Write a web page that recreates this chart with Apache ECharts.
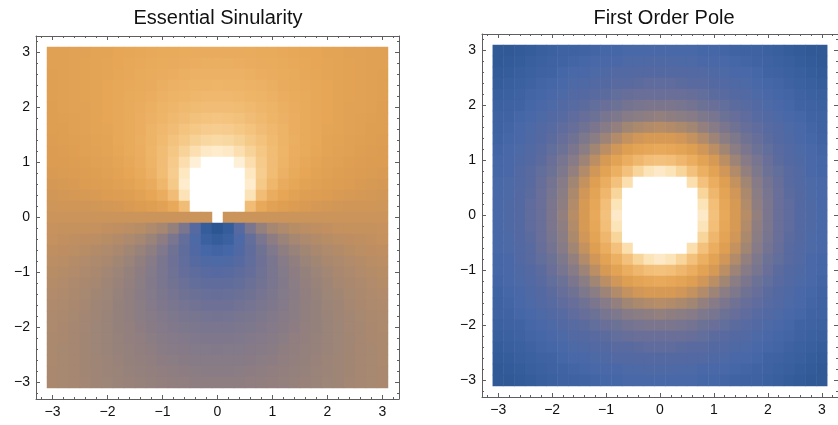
<!DOCTYPE html>
<html>
<head>
<meta charset="utf-8">
<script src="https://cdn.jsdelivr.net/npm/echarts@6/dist/echarts.min.js"></script>
<style>
html,body{margin:0;padding:0;background:#ffffff;}
#chart{width:838px;height:425px;}
</style>
</head>
<body>
<div id="chart"></div>
<script>
// ---------------- data ----------------
const titles = ['Essential Sinularity', 'First Order Pole'];

// cell centres of the sampling grid (outer two are empty padding cells)
const cellCenters = ['-3.2','-3.0','-2.8','-2.6','-2.4','-2.2','-2.0','-1.8','-1.6','-1.4','-1.2','-1.0','-0.8','-0.6','-0.4','-0.2','0.0',
  '0.2','0.4','0.6','0.8','1.0','1.2','1.4','1.6','1.8','2.0','2.2','2.4','2.6','2.8','3.0','3.2'];

const tickValues = [-3, -2, -1, 0, 1, 2, 3];
const tickLabels = ['\u22123', '\u22122', '\u22121', '0', '1', '2', '3'];
const minorTickValues = [-3.2,-2.8,-2.6,-2.4,-2.2,-1.8,-1.6,-1.4,-1.2,-0.8,-0.6,-0.4,-0.2,
  0.2,0.4,0.6,0.8,1.2,1.4,1.6,1.8,2.2,2.4,2.6,2.8,3.2];

// log-modulus of the essential-singularity function, rows from y = 3.0 (top) to y = -3.0, columns x = -3.0 .. 3.0
const essentialLogModulus = [
[.17,.18,.19,.20,.22,.23,.25,.26,.27,.29,.30,.31,.32,.33,.33,.33,.33,.33,.32,.31,.30,.29,.27,.26,.25,.23,.22,.20,.19,.18,.17],
[.17,.18,.19,.21,.22,.24,.25,.27,.29,.30,.32,.33,.34,.35,.36,.36,.36,.35,.34,.33,.32,.30,.29,.27,.25,.24,.22,.21,.19,.18,.17],
[.16,.18,.19,.21,.22,.24,.26,.28,.30,.32,.34,.35,.37,.38,.38,.38,.38,.38,.37,.35,.34,.32,.30,.28,.26,.24,.22,.21,.19,.18,.16],
[.16,.18,.19,.21,.23,.25,.27,.29,.31,.33,.36,.38,.39,.41,.41,.42,.41,.41,.39,.38,.36,.33,.31,.29,.27,.25,.23,.21,.19,.18,.16],
[.16,.17,.19,.21,.23,.25,.27,.30,.32,.35,.38,.40,.42,.44,.45,.45,.45,.44,.42,.40,.38,.35,.32,.30,.27,.25,.23,.21,.19,.17,.16],
[.15,.17,.19,.20,.23,.25,.28,.30,.34,.37,.40,.43,.46,.48,.50,.50,.50,.48,.46,.43,.40,.37,.34,.30,.28,.25,.23,.20,.19,.17,.15],
[.15,.16,.18,.20,.22,.25,.28,.31,.35,.38,.42,.46,.50,.53,.55,.56,.55,.53,.50,.46,.42,.38,.35,.31,.28,.25,.22,.20,.18,.16,.15],
[.14,.15,.17,.19,.22,.24,.28,.31,.35,.40,.45,.50,.55,.59,.62,.63,.62,.59,.55,.50,.45,.40,.35,.31,.28,.24,.22,.19,.17,.15,.14],
[.13,.14,.16,.18,.21,.23,.27,.31,.36,.41,.47,.54,.60,.66,.70,.71,.70,.66,.60,.54,.47,.41,.36,.31,.27,.23,.21,.18,.16,.14,.13],
[.11,.13,.15,.17,.19,.22,.26,.30,.35,.42,.49,.58,.67,.75,.81,.83,.81,.75,.67,.58,.49,.42,.35,.30,.26,.22,.19,.17,.15,.13,.11],
[.10,.11,.13,.15,.17,.20,.24,.28,.34,.41,.50,.61,.74,.86,.96,1.00,.96,.86,.74,.61,.50,.41,.34,.28,.24,.20,.17,.15,.13,.11,.10],
[.08,.09,.11,.13,.15,.17,.21,.25,.31,.38,.49,.63,.80,1.00,1.18,1.25,1.18,1.00,.80,.63,.49,.38,.31,.25,.21,.17,.15,.13,.11,.09,.08],
[.06,.07,.08,.10,.12,.14,.17,.21,.26,.33,.44,.60,.83,1.15,1.50,1.67,1.50,1.15,.83,.60,.44,.33,.26,.21,.17,.14,.12,.10,.08,.07,.06],
[.04,.05,.06,.07,.08,.10,.12,.15,.19,.25,.34,.50,.77,1.25,2.00,2.50,2.00,1.25,.77,.50,.34,.25,.19,.15,.12,.10,.08,.07,.06,.05,.04],
[.02,.03,.03,.03,.04,.05,.06,.08,.10,.14,.19,.29,.50,1.00,2.50,5.00,2.50,1.00,.50,.29,.19,.14,.10,.08,.06,.05,.04,.03,.03,.03,.02],
[0,0,0,0,0,0,0,0,0,0,0,0,0,0,0,'-',0,0,0,0,0,0,0,0,0,0,0,0,0,0,0],
[-.02,-.03,-.03,-.03,-.04,-.05,-.06,-.08,-.10,-.14,-.19,-.29,-.50,-1.00,-2.50,-5.00,-2.50,-1.00,-.50,-.29,-.19,-.14,-.10,-.08,-.06,-.05,-.04,-.03,-.03,-.03,-.02],
[-.04,-.05,-.06,-.07,-.08,-.10,-.12,-.15,-.19,-.25,-.34,-.50,-.77,-1.25,-2.00,-2.50,-2.00,-1.25,-.77,-.50,-.34,-.25,-.19,-.15,-.12,-.10,-.08,-.07,-.06,-.05,-.04],
[-.06,-.07,-.08,-.10,-.12,-.14,-.17,-.21,-.26,-.33,-.44,-.60,-.83,-1.15,-1.50,-1.67,-1.50,-1.15,-.83,-.60,-.44,-.33,-.26,-.21,-.17,-.14,-.12,-.10,-.08,-.07,-.06],
[-.08,-.09,-.11,-.13,-.15,-.17,-.21,-.25,-.31,-.38,-.49,-.63,-.80,-1.00,-1.18,-1.25,-1.18,-1.00,-.80,-.63,-.49,-.38,-.31,-.25,-.21,-.17,-.15,-.13,-.11,-.09,-.08],
[-.10,-.11,-.13,-.15,-.17,-.20,-.24,-.28,-.34,-.41,-.50,-.61,-.74,-.86,-.96,-1.00,-.96,-.86,-.74,-.61,-.50,-.41,-.34,-.28,-.24,-.20,-.17,-.15,-.13,-.11,-.10],
[-.11,-.13,-.15,-.17,-.19,-.22,-.26,-.30,-.35,-.42,-.49,-.58,-.67,-.75,-.81,-.83,-.81,-.75,-.67,-.58,-.49,-.42,-.35,-.30,-.26,-.22,-.19,-.17,-.15,-.13,-.11],
[-.13,-.14,-.16,-.18,-.21,-.23,-.27,-.31,-.36,-.41,-.47,-.54,-.60,-.66,-.70,-.71,-.70,-.66,-.60,-.54,-.47,-.41,-.36,-.31,-.27,-.23,-.21,-.18,-.16,-.14,-.13],
[-.14,-.15,-.17,-.19,-.22,-.24,-.28,-.31,-.35,-.40,-.45,-.50,-.55,-.59,-.62,-.63,-.62,-.59,-.55,-.50,-.45,-.40,-.35,-.31,-.28,-.24,-.22,-.19,-.17,-.15,-.14],
[-.15,-.16,-.18,-.20,-.22,-.25,-.28,-.31,-.35,-.38,-.42,-.46,-.50,-.53,-.55,-.56,-.55,-.53,-.50,-.46,-.42,-.38,-.35,-.31,-.28,-.25,-.22,-.20,-.18,-.16,-.15],
[-.15,-.17,-.19,-.20,-.23,-.25,-.28,-.30,-.34,-.37,-.40,-.43,-.46,-.48,-.50,-.50,-.50,-.48,-.46,-.43,-.40,-.37,-.34,-.30,-.28,-.25,-.23,-.20,-.19,-.17,-.15],
[-.16,-.17,-.19,-.21,-.23,-.25,-.27,-.30,-.32,-.35,-.38,-.40,-.42,-.44,-.45,-.45,-.45,-.44,-.42,-.40,-.38,-.35,-.32,-.30,-.27,-.25,-.23,-.21,-.19,-.17,-.16],
[-.16,-.18,-.19,-.21,-.23,-.25,-.27,-.29,-.31,-.33,-.36,-.38,-.39,-.41,-.41,-.42,-.41,-.41,-.39,-.38,-.36,-.33,-.31,-.29,-.27,-.25,-.23,-.21,-.19,-.18,-.16],
[-.16,-.18,-.19,-.21,-.22,-.24,-.26,-.28,-.30,-.32,-.34,-.35,-.37,-.38,-.38,-.38,-.38,-.38,-.37,-.35,-.34,-.32,-.30,-.28,-.26,-.24,-.22,-.21,-.19,-.18,-.16],
[-.17,-.18,-.19,-.21,-.22,-.24,-.25,-.27,-.29,-.30,-.32,-.33,-.34,-.35,-.36,-.36,-.36,-.35,-.34,-.33,-.32,-.30,-.29,-.27,-.25,-.24,-.22,-.21,-.19,-.18,-.17],
[-.17,-.18,-.19,-.20,-.22,-.23,-.25,-.26,-.27,-.29,-.30,-.31,-.32,-.33,-.33,-.33,-.33,-.33,-.32,-.31,-.30,-.29,-.27,-.26,-.25,-.23,-.22,-.20,-.19,-.18,-.17]
];

// modulus of the first-order pole, same grid
const poleModulus = [
[.24,.24,.25,.26,.27,.28,.29,.29,.30,.31,.32,.32,.33,.33,.33,.33,.33,.33,.33,.32,.32,.31,.30,.29,.29,.28,.27,.26,.25,.24,.24],
[.24,.25,.26,.27,.28,.29,.30,.31,.32,.33,.34,.34,.35,.35,.36,.36,.36,.35,.35,.34,.34,.33,.32,.31,.30,.29,.28,.27,.26,.25,.24],
[.25,.26,.27,.28,.29,.30,.32,.33,.34,.35,.36,.37,.37,.38,.38,.38,.38,.38,.37,.37,.36,.35,.34,.33,.32,.30,.29,.28,.27,.26,.25],
[.26,.27,.28,.29,.31,.32,.33,.35,.36,.37,.38,.40,.40,.41,.42,.42,.42,.41,.40,.40,.38,.37,.36,.35,.33,.32,.31,.29,.28,.27,.26],
[.27,.28,.29,.31,.32,.34,.35,.37,.38,.40,.41,.43,.44,.45,.45,.45,.45,.45,.44,.43,.41,.40,.38,.37,.35,.34,.32,.31,.29,.28,.27],
[.28,.29,.30,.32,.34,.35,.37,.39,.41,.43,.45,.46,.48,.49,.50,.50,.50,.49,.48,.46,.45,.43,.41,.39,.37,.35,.34,.32,.30,.29,.28],
[.29,.30,.32,.33,.35,.37,.39,.42,.44,.46,.49,.51,.53,.54,.55,.56,.55,.54,.53,.51,.49,.46,.44,.42,.39,.37,.35,.33,.32,.30,.29],
[.29,.31,.33,.35,.37,.39,.42,.44,.47,.50,.53,.56,.59,.61,.62,.63,.62,.61,.59,.56,.53,.50,.47,.44,.42,.39,.37,.35,.33,.31,.29],
[.30,.32,.34,.36,.38,.41,.44,.47,.51,.54,.58,.62,.66,.69,.71,.71,.71,.69,.66,.62,.58,.54,.51,.47,.44,.41,.38,.36,.34,.32,.30],
[.31,.33,.35,.37,.40,.43,.46,.50,.54,.59,.64,.69,.75,.79,.82,.83,.82,.79,.75,.69,.64,.59,.54,.50,.46,.43,.40,.37,.35,.33,.31],
[.32,.34,.36,.38,.41,.45,.49,.53,.58,.64,.71,.78,.86,.93,.98,1.00,.98,.93,.86,.78,.71,.64,.58,.53,.49,.45,.41,.38,.36,.34,.32],
[.32,.34,.37,.40,.43,.46,.51,.56,.62,.69,.78,.88,1.00,1.12,1.21,1.25,1.21,1.12,1.00,.88,.78,.69,.62,.56,.51,.46,.43,.40,.37,.34,.32],
[.33,.35,.37,.40,.44,.48,.53,.59,.66,.75,.86,1.00,1.18,1.39,1.58,1.67,1.58,1.39,1.18,1.00,.86,.75,.66,.59,.53,.48,.44,.40,.37,.35,.33],
[.33,.35,.38,.41,.45,.49,.54,.61,.69,.79,.93,1.12,1.39,1.77,2.24,2.50,2.24,1.77,1.39,1.12,.93,.79,.69,.61,.54,.49,.45,.41,.38,.35,.33],
[.33,.36,.38,.42,.45,.50,.55,.62,.71,.82,.98,1.21,1.58,2.24,3.54,5.00,3.54,2.24,1.58,1.21,.98,.82,.71,.62,.55,.50,.45,.42,.38,.36,.33],
[.33,.36,.38,.42,.45,.50,.56,.63,.71,.83,1.00,1.25,1.67,2.50,5.00,'-',5.00,2.50,1.67,1.25,1.00,.83,.71,.63,.56,.50,.45,.42,.38,.36,.33],
[.33,.36,.38,.42,.45,.50,.55,.62,.71,.82,.98,1.21,1.58,2.24,3.54,5.00,3.54,2.24,1.58,1.21,.98,.82,.71,.62,.55,.50,.45,.42,.38,.36,.33],
[.33,.35,.38,.41,.45,.49,.54,.61,.69,.79,.93,1.12,1.39,1.77,2.24,2.50,2.24,1.77,1.39,1.12,.93,.79,.69,.61,.54,.49,.45,.41,.38,.35,.33],
[.33,.35,.37,.40,.44,.48,.53,.59,.66,.75,.86,1.00,1.18,1.39,1.58,1.67,1.58,1.39,1.18,1.00,.86,.75,.66,.59,.53,.48,.44,.40,.37,.35,.33],
[.32,.34,.37,.40,.43,.46,.51,.56,.62,.69,.78,.88,1.00,1.12,1.21,1.25,1.21,1.12,1.00,.88,.78,.69,.62,.56,.51,.46,.43,.40,.37,.34,.32],
[.32,.34,.36,.38,.41,.45,.49,.53,.58,.64,.71,.78,.86,.93,.98,1.00,.98,.93,.86,.78,.71,.64,.58,.53,.49,.45,.41,.38,.36,.34,.32],
[.31,.33,.35,.37,.40,.43,.46,.50,.54,.59,.64,.69,.75,.79,.82,.83,.82,.79,.75,.69,.64,.59,.54,.50,.46,.43,.40,.37,.35,.33,.31],
[.30,.32,.34,.36,.38,.41,.44,.47,.51,.54,.58,.62,.66,.69,.71,.71,.71,.69,.66,.62,.58,.54,.51,.47,.44,.41,.38,.36,.34,.32,.30],
[.29,.31,.33,.35,.37,.39,.42,.44,.47,.50,.53,.56,.59,.61,.62,.63,.62,.61,.59,.56,.53,.50,.47,.44,.42,.39,.37,.35,.33,.31,.29],
[.29,.30,.32,.33,.35,.37,.39,.42,.44,.46,.49,.51,.53,.54,.55,.56,.55,.54,.53,.51,.49,.46,.44,.42,.39,.37,.35,.33,.32,.30,.29],
[.28,.29,.30,.32,.34,.35,.37,.39,.41,.43,.45,.46,.48,.49,.50,.50,.50,.49,.48,.46,.45,.43,.41,.39,.37,.35,.34,.32,.30,.29,.28],
[.27,.28,.29,.31,.32,.34,.35,.37,.38,.40,.41,.43,.44,.45,.45,.45,.45,.45,.44,.43,.41,.40,.38,.37,.35,.34,.32,.31,.29,.28,.27],
[.26,.27,.28,.29,.31,.32,.33,.35,.36,.37,.38,.40,.40,.41,.42,.42,.42,.41,.40,.40,.38,.37,.36,.35,.33,.32,.31,.29,.28,.27,.26],
[.25,.26,.27,.28,.29,.30,.32,.33,.34,.35,.36,.37,.37,.38,.38,.38,.38,.38,.37,.37,.36,.35,.34,.33,.32,.30,.29,.28,.27,.26,.25],
[.24,.25,.26,.27,.28,.29,.30,.31,.32,.33,.34,.34,.35,.35,.36,.36,.36,.35,.35,.34,.34,.33,.32,.31,.30,.29,.28,.27,.26,.25,.24],
[.24,.24,.25,.26,.27,.28,.29,.29,.30,.31,.32,.32,.33,.33,.33,.33,.33,.33,.33,.32,.32,.31,.30,.29,.29,.28,.27,.26,.25,.24,.24]
];

// ---------------- colour scale (density gradient) ----------------
// values above the clip level are shown white (clipped), as in the original
const ESS_MIN = -5, ESS_CLIP = 0.89, ESS_TOP = 5;
const POLE_MIN = 0.22, POLE_CLIP = 1.33, POLE_TOP = 5;
const gradientStops = [
  [0.00, '#2a5590'], [0.05, '#3a60a0'], [0.10, '#4868a8'], [0.16, '#586aa0'],
  [0.21, '#6a7097'], [0.27, '#82798b'], [0.33, '#9f8575'], [0.39, '#c29060'],
  [0.45, '#db9c52'], [0.53, '#e6a656'], [0.62, '#eeb468'], [0.72, '#f4c480'],
  [0.82, '#f9d69e'], [0.91, '#fde7c0'], [1.00, '#fff4e0']
];
function hexRgb(h) { return [1, 3, 5].map(i => parseInt(h.substr(i, 2), 16)); }
function gradientAt(t) {
  t = Math.max(0, Math.min(1, t));
  for (let k = 1; k < gradientStops.length; k++) {
    const [t1, c1] = gradientStops[k];
    if (t <= t1) {
      const [t0, c0] = gradientStops[k - 1];
      const f = (t - t0) / (t1 - t0);
      const a = hexRgb(c0), b = hexRgb(c1);
      return 'rgb(' + a.map((v, i) => Math.round(v + (b[i] - v) * f)).join(',') + ')';
    }
  }
  return gradientStops[gradientStops.length - 1][1];
}
const STEPS = 400;
const essPalette = [], polePalette = [];
for (let k = 0; k <= STEPS; k++) {
  const u = ESS_MIN + (ESS_TOP - ESS_MIN) * k / STEPS;
  essPalette.push(u > ESS_CLIP ? '#ffffff' : gradientAt(Math.exp(u - ESS_CLIP)));
  const v = POLE_MIN + (POLE_TOP - POLE_MIN) * k / STEPS;
  polePalette.push(v > POLE_CLIP ? '#ffffff' : gradientAt((v - POLE_MIN) / (POLE_CLIP - POLE_MIN)));
}

// ---------------- build ----------------
function toCells(rows) {
  const out = [];
  rows.forEach((row, r) => row.forEach((v, c) => {
    if (typeof v === 'number') out.push([c + 1, rows.length - r, v]);
  }));
  return out;
}

const FONT = "'Liberation Sans', Arial, Helvetica, sans-serif";
const FRAME = '#5e5e5e';
const grids = [
  { left: 36, top: 36, width: 363, height: 363 },
  { left: 482, top: 34, width: 363, height: 363 }
];

const xAxes = [], yAxes = [];
function frameAxis(g, position, values, len, withLine, withLabels) {
  return {
    gridIndex: g, type: 'value', min: -3.3, max: 3.3, position: position,
    axisLine: { show: withLine, onZero: false, lineStyle: { color: FRAME, width: 1 } },
    axisTick: { show: true, inside: true, length: len, customValues: values, lineStyle: { color: FRAME, width: 1 } },
    axisLabel: withLabels ? {
      show: true, customValues: tickValues, margin: 6, fontSize: 14, color: '#111111', fontFamily: FONT,
      formatter: v => tickLabels[tickValues.indexOf(Math.round(v))]
    } : { show: false },
    splitLine: { show: false }, minorTick: { show: false }
  };
}
grids.forEach((gr, g) => {
  xAxes.push({ gridIndex: g, type: 'category', data: cellCenters, show: false });
  yAxes.push({ gridIndex: g, type: 'category', data: cellCenters, show: false });
  xAxes.push(frameAxis(g, 'bottom', tickValues, 4, true, true));
  xAxes.push(frameAxis(g, 'top', tickValues, 4, true, false));
  xAxes.push(frameAxis(g, 'bottom', minorTickValues, 2, false, false));
  xAxes.push(frameAxis(g, 'top', minorTickValues, 2, false, false));
  yAxes.push(frameAxis(g, 'left', tickValues, 4, true, true));
  yAxes.push(frameAxis(g, 'right', tickValues, 4, true, false));
  yAxes.push(frameAxis(g, 'left', minorTickValues, 2, false, false));
  yAxes.push(frameAxis(g, 'right', minorTickValues, 2, false, false));
});

const chart = echarts.init(document.getElementById('chart'), null, { renderer: 'canvas' });
chart.setOption({
  animation: false,
  backgroundColor: '#ffffff',
  textStyle: { fontFamily: FONT },
  title: [
    { text: titles[0], left: 218, top: 8, padding: 0, textAlign: 'center',
      textStyle: { fontSize: 20, fontWeight: 'normal', color: '#111111', fontFamily: FONT } },
    { text: titles[1], left: 664, top: 8, padding: 0, textAlign: 'center',
      textStyle: { fontSize: 20, fontWeight: 'normal', color: '#111111', fontFamily: FONT } }
  ],
  grid: grids,
  xAxis: xAxes,
  yAxis: yAxes,
  visualMap: [
    { type: 'continuous', show: false, seriesIndex: 0, dimension: 2, min: ESS_MIN, max: ESS_TOP,
      inRange: { color: essPalette } },
    { type: 'continuous', show: false, seriesIndex: 1, dimension: 2, min: POLE_MIN, max: POLE_TOP,
      inRange: { color: polePalette } }
  ],
  series: [
    { type: 'heatmap', xAxisIndex: 0, yAxisIndex: 0, data: toCells(essentialLogModulus),
      itemStyle: { borderWidth: 0 }, emphasis: { disabled: true } },
    { type: 'heatmap', xAxisIndex: 5, yAxisIndex: 5, data: toCells(poleModulus),
      itemStyle: { borderWidth: 0 }, emphasis: { disabled: true } }
  ]
});
</script>
</body>
</html>
